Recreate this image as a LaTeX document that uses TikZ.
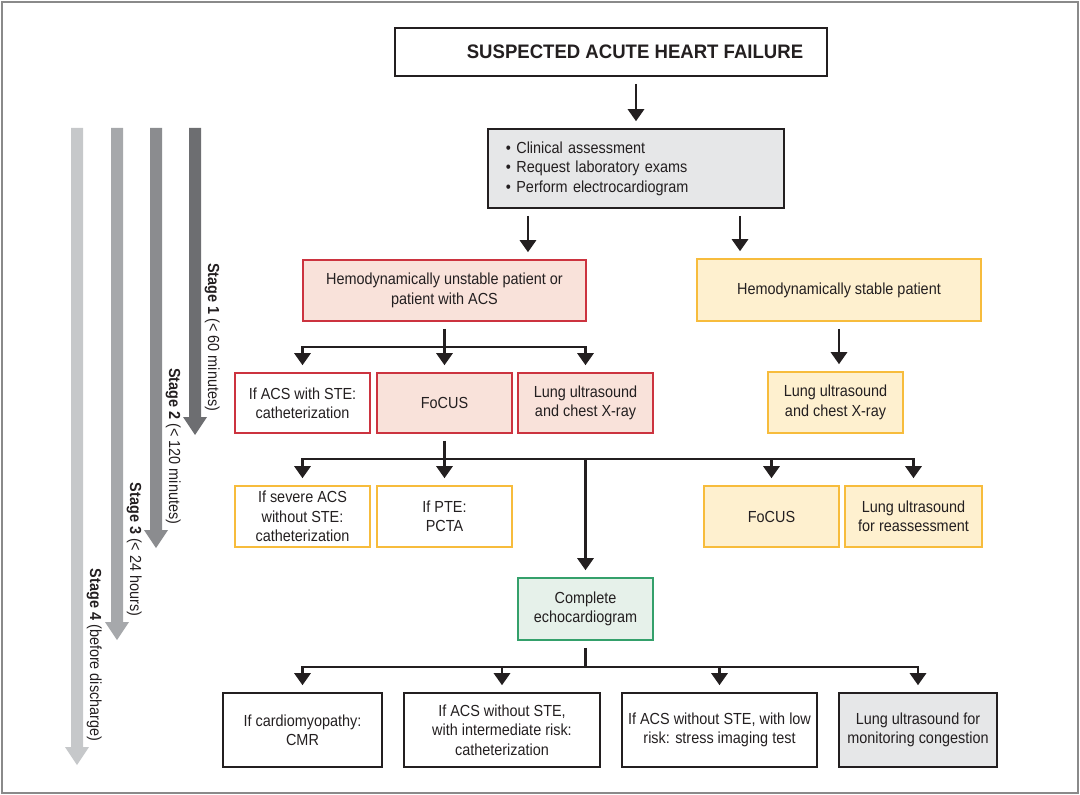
\documentclass[tikz,border=0pt]{standalone}
\usepackage{fontspec}
\setmainfont[FakeStretch=0.9]{Liberation Sans}
\newfontfamily\titlefont[FakeStretch=0.95]{Liberation Sans}
\usetikzlibrary{arrows.meta, calc}
\definecolor{inkline}{HTML}{231F20}
\definecolor{framegray}{HTML}{8A8A8A}
\definecolor{acsred}{HTML}{CC333F}
\definecolor{acspink}{HTML}{F9E2DA}
\definecolor{stableyellow}{HTML}{F7BC3C}
\definecolor{stablecream}{HTML}{FEF0CF}
\definecolor{echogreen}{HTML}{34A06B}
\definecolor{echomint}{HTML}{E6F1EA}
\definecolor{panelgray}{HTML}{E6E7E8}
\definecolor{stageone}{HTML}{6D6E71}
\definecolor{stagetwo}{HTML}{8B8C8F}
\definecolor{stagethree}{HTML}{A6A8AB}
\definecolor{stagefour}{HTML}{C6C8CA}
\tikzset{
    box/.style={draw=inkline, line width=1.1pt, align=center, inner sep=2pt,
        text=inkline, font=\fontsize{11.4}{13.8}\selectfont},
    boxsize/.style 2 args={minimum width=#1, minimum height=#2},
    titlebox/.style={box, font=\titlefont\fontsize{13.9}{16}\selectfont\bfseries},
    graybox/.style={box, fill=panelgray},
    redbox/.style={box, draw=acsred},
    pinkbox/.style={redbox, fill=acspink},
    yellowbox/.style={box, draw=stableyellow},
    creambox/.style={yellowbox, fill=stablecream},
    greenbox/.style={box, draw=echogreen, fill=echomint},
    flow/.style={draw=inkline, line width=1.6pt},
    flowarrow/.style={flow, -{Triangle[width=11.5pt, length=8.5pt]},
        shorten >=5pt},
    stagelabel/.style={rotate=-90, inner sep=1pt, text=inkline,
        font=\fontsize{11.4}{13.8}\selectfont},
    frame/.style={draw=framegray, line width=1.2pt},
}

\begin{document}
\begin{tikzpicture}[x=0.025cm, y=-0.025cm]
    \useasboundingbox (0,0) rectangle (1080,795);
    \draw[frame] (2,2) rectangle (1078,793);

    % time stages on the left
    \foreach \sx/\tip/\tone/\num/\what in {195/435/stageone/1/{< 60 minutes},
            156/548/stagetwo/2/{< 120 minutes}, 117/640/stagethree/3/{< 24 hours},
            77/765/stagefour/4/{before discharge}} {
        \fill[\tone] (\sx-6,128) -- (\sx+6,128) -- (\sx+6,\tip-18)
            -- (\sx+12,\tip-18) -- (\sx,\tip) -- (\sx-12,\tip-18)
            -- (\sx-6,\tip-18) -- cycle;
        \node[stagelabel, anchor=south east] (stage\num) at (\sx+8,\tip-22)
            {\textbf{Stage \num} (\what)};
    }

    \node[titlebox, boxsize={10.8cm}{1.2cm}] (suspected) at (611,52)
        {\hspace*{1.2cm}SUSPECTED ACUTE HEART FAILURE};
    \node[graybox, text width=6.5cm, inner xsep=0.45cm, minimum height=1.975cm,
        align=left] (assess) at (636,168.5)
        {•~Clinical assessment\\ •~Request laboratory exams\\
         •~Perform electrocardiogram};

    \node[pinkbox, boxsize={7.075cm}{1.525cm}] (unstable) at (444.5,290.5)
        {Hemodynamically unstable patient or\\ patient with ACS};
    \node[creambox, boxsize={7.1cm}{1.55cm}] (stable) at (839,290)
        {Hemodynamically stable patient};

    \node[redbox, boxsize={3.375cm}{1.5cm}] (acsste) at (302.5,403)
        {If ACS with STE:\\ catheterization};
    \node[pinkbox, boxsize={3.375cm}{1.5cm}] (focusa) at (444.5,403) {FoCUS};
    \node[pinkbox, boxsize={3.375cm}{1.5cm}] (lunga) at (585.5,403)
        {Lung ultrasound\\ and chest X-ray};
    \node[creambox, boxsize={3.375cm}{1.525cm}] (lungb) at (835.5,402.5)
        {Lung ultrasound\\ and chest X-ray};

    \node[yellowbox, boxsize={3.375cm}{1.525cm}] (severe) at (302.5,516.5)
        {If severe ACS\\ without STE:\\ catheterization};
    \node[yellowbox, boxsize={3.375cm}{1.525cm}] (pte) at (444.5,516.5)
        {If PTE:\\ PCTA};
    \node[creambox, boxsize={3.375cm}{1.525cm}] (focusb) at (771.5,516.5)
        {FoCUS};
    \node[creambox, boxsize={3.425cm}{1.525cm}] (reassess) at (913.5,516.5)
        {Lung ultrasound\\ for reassessment};

    \node[greenbox, boxsize={3.375cm}{1.55cm}] (echo) at (585.5,609)
        {Complete\\ echocardiogram};

    \node[box, boxsize={3.975cm}{1.85cm}] (cmr) at (302.5,730)
        {If cardiomyopathy:\\ CMR};
    \node[box, boxsize={4.9cm}{1.85cm}] (intermed) at (502,730)
        {If ACS without STE,\\ with intermediate risk:\\ catheterization};
    \node[box, boxsize={4.875cm}{1.85cm}] (lowrisk) at (719.5,730)
        {If ACS without STE, with low\\ risk: stress imaging test};
    \node[graybox, boxsize={3.95cm}{1.85cm}] (monitor) at (918,730)
        {Lung ultrasound for\\ monitoring congestion};

    % connectors
    \draw[flowarrow, shorten <=5pt] (suspected.south -| assess) -- (assess);
    \coordinate (toleft) at ([xshift=-2.7cm]assess.south);
    \coordinate (toright) at ([xshift=2.6cm]assess.south);
    \draw[flowarrow, shorten <=5pt] (toleft) -- (toleft |- unstable.north);
    \draw[flowarrow, shorten <=5pt] (toright) -- (toright |- stable.north);
    \draw[flowarrow, shorten <=5pt] (stable.south) -- (stable.south |- lungb.north);

    \coordinate (splitA) at (444.5,347);
    \draw[flow, shorten <=5pt] (unstable.south) -- (splitA);
    \draw[flow, line cap=rect] (splitA -| acsste) -- (splitA -| lunga);
    \foreach \n in {acsste, focusa, lunga}
        \draw[flowarrow] (splitA -| \n) -- (\n);

    \coordinate (splitB) at (444.5,459);
    \draw[flow, shorten <=5pt] (focusa.south) -- (splitB);
    \draw[flow, line cap=rect] (splitB -| severe) -- (splitB -| reassess);
    \foreach \n in {severe, pte, echo, focusb, reassess}
        \draw[flowarrow] (splitB -| \n) -- (\n);

    \coordinate (splitC) at (585.5,667);
    \draw[flow, shorten <=5pt] (echo.south) -- (splitC);
    \draw[flow, line cap=rect] (splitC -| cmr) -- (splitC -| monitor);
    \foreach \n in {cmr, intermed, lowrisk, monitor}
        \draw[flowarrow] (splitC -| \n) -- (\n);
\end{tikzpicture}
\end{document}
